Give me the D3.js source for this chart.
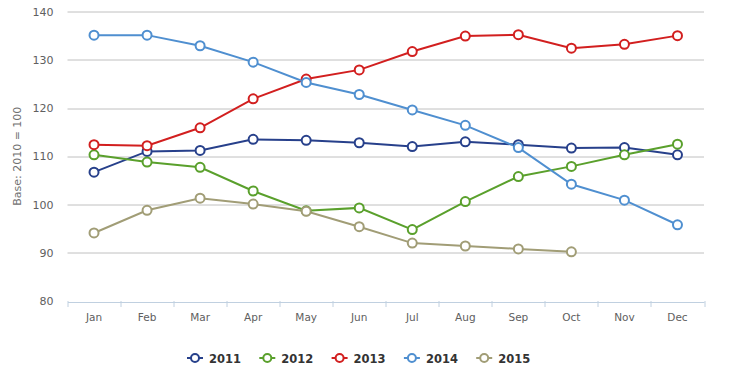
<!DOCTYPE html>
<html>
<head>
<meta charset="utf-8">
<script src="https://cdn.jsdelivr.net/npm/d3@7"></script>
<style>
body { margin: 0; background: #fff; }
text { font-family: "DejaVu Sans", sans-serif; }
</style>
</head>
<body>
<div id="chart"></div>
<script>
const months = ["Jan", "Feb", "Mar", "Apr", "May", "Jun", "Jul", "Aug", "Sep", "Oct", "Nov", "Dec"];
const years = ["2011", "2012", "2013", "2014", "2015"];
const colors = ["#27408b", "#5aa02c", "#d21f1f", "#4f8fd0", "#a19d76"];
const v2011 = [106.7, 111.0, 111.2, 113.5, 113.3, 112.8, 112.0, 113.0, 112.4, 111.7, 111.8, 110.3];
const v2012 = [110.3, 108.8, 107.7, 102.8, 98.7, 99.3, 94.8, 100.6, 105.8, 107.9, 110.3, 112.5];
const v2013 = [112.4, 112.2, 115.9, 121.9, 126.0, 127.9, 131.7, 134.9, 135.2, 132.4, 133.2, 135.0];
const v2014 = [135.1, 135.1, 132.9, 129.5, 125.3, 122.8, 119.6, 116.4, 111.8, 104.2, 100.9, 95.8];
const v2015 = [94.1, 98.8, 101.3, 100.1, 98.6, 95.4, 92.0, 91.4, 90.8, 90.2];
const yTicks = [80, 90, 100, 110, 120, 130, 140];
const series = [v2011, v2012, v2013, v2014, v2015];

const W = 735, H = 379;
const margin = {top: 11.5, right: 31, bottom: 78, left: 67.5};
const width = W - margin.left - margin.right;
const height = H - margin.top - margin.bottom;

const svg = d3.select("#chart")
    .append("svg")
    .attr("width", W)
    .attr("height", H);

const g = svg.append("g")
    .attr("transform", "translate(" + margin.left + "," + margin.top + ")");

const x = d3.scaleBand().domain(months).range([0, width]);
const y = d3.scaleLinear().domain([80, 140]).range([height, 0]);

// grid
g.selectAll(".grid")
    .data(yTicks.slice(1))
    .enter().append("line")
    .attr("x1", 0).attr("x2", width)
    .attr("y1", d => Math.round(y(d)) + 0.5)
    .attr("y2", d => Math.round(y(d)) + 0.5)
    .style("stroke", "#c0c0c0");

// y labels
g.selectAll(".ylab")
    .data(yTicks)
    .enter().append("text")
    .attr("x", -14)
    .attr("y", d => y(d) + 4)
    .attr("text-anchor", "end")
    .style("font-size", "11px")
    .style("fill", "#606060")
    .text(d => d);

svg.append("text")
    .attr("transform", "translate(21," + (margin.top + height / 2) + ") rotate(-90)")
    .attr("text-anchor", "middle")
    .style("font-size", "11px")
    .style("fill", "#707070")
    .text("Base: 2010 = 100");

// x axis
const xAxis = g.append("g")
    .attr("transform", `translate(0, ${Math.round(height) + 0.5})`)
    .call(d3.axisBottom(x).tickSize(0).tickPadding(12));
xAxis.select(".domain").style("stroke", "#c0d0e0");
xAxis.selectAll("text")
    .style("font-size", "10.5px")
    .style("fill", "#606060")
    .style("font-family", "DejaVu Sans, sans-serif");
g.selectAll(".xtick")
    .data(months.concat(["end"]))
    .enter().append("line")
    .attr("x1", (d, i) => Math.round(i * x.bandwidth()) + 0.5)
    .attr("x2", (d, i) => Math.round(i * x.bandwidth()) + 0.5)
    .attr("y1", height)
    .attr("y2", height + 6)
    .style("stroke", "#c0d0e0");

// lines
const line = d3.line()
    .x((d, i) => x(months[i]) + x.bandwidth() / 2)
    .y(d => y(d));

series.forEach((s, k) => {
    g.append("path")
        .datum(s)
        .attr("d", line)
        .style("fill", "none")
        .style("stroke", colors[k])
        .style("stroke-width", 2);
});
series.forEach((s, k) => {
    g.selectAll(".pt" + k)
        .data(s)
        .enter().append("circle")
        .attr("cx", (d, i) => x(months[i]) + x.bandwidth() / 2)
        .attr("cy", d => y(d))
        .attr("r", 4.5)
        .style("fill", "#fff")
        .style("stroke", colors[k])
        .style("stroke-width", 2);
});

// legend
const legend = svg.append("g").attr("transform", "translate(187, 358)");
years.forEach((yr, k) => {
    const item = legend.append("g").attr("transform", `translate(${k * 72.3}, 0)`);
    item.append("line")
        .attr("x1", 0).attr("x2", 16)
        .attr("y1", 0).attr("y2", 0)
        .style("stroke", colors[k])
        .style("stroke-width", 2);
    item.append("circle")
        .attr("cx", 8).attr("cy", 0).attr("r", 4)
        .style("fill", "#fff")
        .style("stroke", colors[k])
        .style("stroke-width", 2);
    item.append("text")
        .attr("x", 22).attr("y", 4.5)
        .style("font-size", "11.5px")
        .style("font-weight", "bold")
        .style("fill", "#333")
        .text(yr);
});
</script>
</body>
</html>
